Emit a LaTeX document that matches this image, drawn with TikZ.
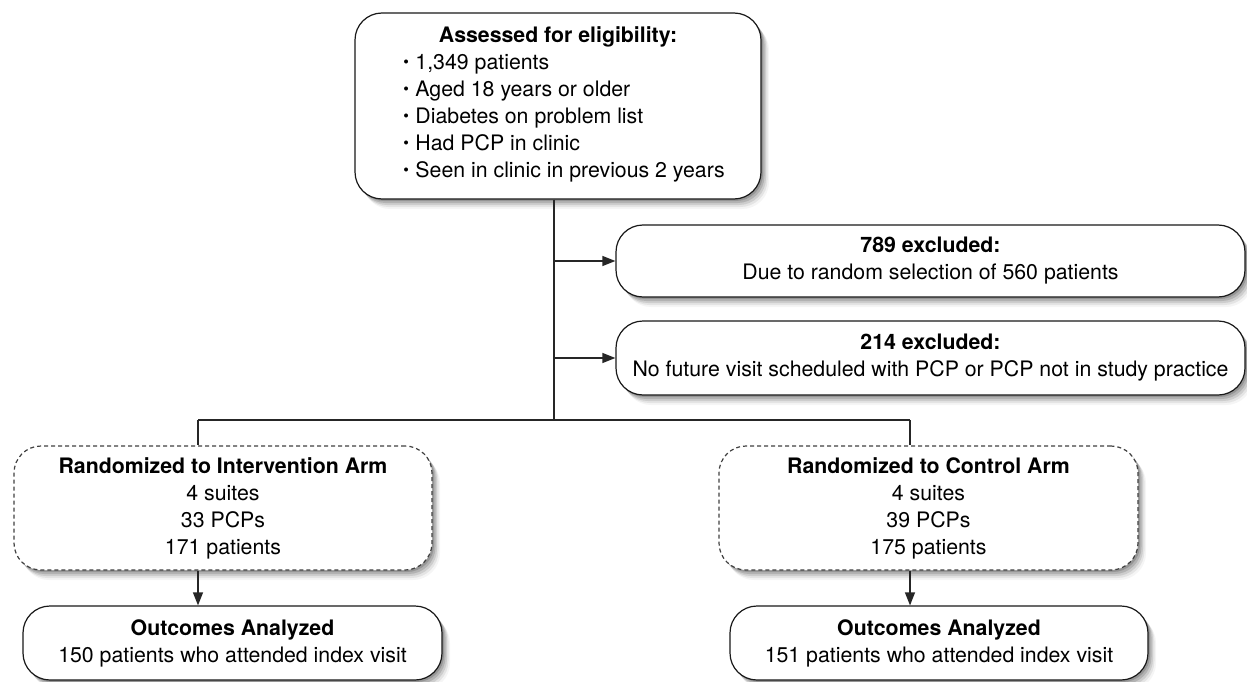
\documentclass[tikz,border=0pt]{standalone}
\usepackage{fontspec}
\setmainfont{TeX Gyre Heros}
\usetikzlibrary{arrows.meta,shadows}
\newcommand{\bul}{{\fontsize{16}{16}\selectfont\raisebox{1.4pt}{•}}\hspace{6.5pt}}
\begin{document}
\begin{tikzpicture}[x=1pt,y=-1pt,
  myshadow/.style={
    general shadow={fill=black, opacity=0.16, shadow xshift=2pt, shadow yshift=-2pt},
    general shadow={fill=black, opacity=0.13, shadow xshift=3.5pt, shadow yshift=-4pt},
    general shadow={fill=black, opacity=0.10, shadow xshift=5pt, shadow yshift=-6pt},
    general shadow={fill=black, opacity=0.07, shadow xshift=6.5pt, shadow yshift=-8pt},
    general shadow={fill=black, opacity=0.04, shadow xshift=8pt, shadow yshift=-10pt}},
  txt/.style={font=\fontsize{21.3}{27}\selectfont, align=center},
  box/.style={draw=black!90, line width=1.2pt, fill=white, rounded corners=27pt, txt, myshadow, inner sep=0pt},
  dbox/.style={box, draw=black!75, dash pattern=on 4pt off 3pt},
  conn/.style={draw=black!85, line width=1.2pt},
  arr/.style={conn, -{Triangle[length=13pt,width=10pt]}},
]
\useasboundingbox (0,0) rectangle (1247,682);

\node[box, minimum width=406pt, minimum height=186pt] (top) at (558,106)
  {\textbf{Assessed for eligibility:}\\
   \hspace*{12pt}\begin{tabular}[t]{@{}l@{}}
   \bul 1,349 patients\\
   \bul Aged 18 years or older\\
   \bul Diabetes on problem list\\
   \bul Had PCP in clinic\\
   \bul Seen in clinic in previous 2 years
   \end{tabular}};

\node[box, minimum width=629pt, minimum height=72pt] (ex1) at (930.5,261)
  {\textbf{789 excluded:}\\Due to random selection of 560 patients};
\node[box, minimum width=629pt, minimum height=74pt] (ex2) at (930.5,358)
  {\textbf{214 excluded:}\\No future visit scheduled with PCP or PCP not in study practice};

\node[dbox, minimum width=418pt, minimum height=124pt] (intv) at (223,508)
  {\textbf{Randomized to Intervention Arm}\\4 suites\\33 PCPs\\171 patients};
\node[dbox, minimum width=419pt, minimum height=124pt] (ctrl) at (928.5,508)
  {\textbf{Randomized to Control Arm}\\4 suites\\39 PCPs\\175 patients};

\node[box, minimum width=419pt, minimum height=74pt] (outL) at (232.5,643)
  {\textbf{Outcomes Analyzed}\\150 patients who attended index visit};
\node[box, minimum width=418pt, minimum height=74pt] (outR) at (939,643)
  {\textbf{Outcomes Analyzed}\\151 patients who attended index visit};

\coordinate (t) at (554,420);
\coordinate (bl) at (198,420);
\coordinate (br) at (910,420);

\draw[conn] (top.south -| t) -- (t);
\draw[arr] (t |- ex1.west) -- (ex1.west);
\draw[arr] (t |- ex2.west) -- (ex2.west);
\draw[conn] (bl) -- (br);
\draw[conn] (bl) -- (intv.north -| bl);
\draw[conn] (br) -- (ctrl.north -| br);
\draw[arr] (intv.south -| bl) -- (outL.north -| bl);
\draw[arr] (ctrl.south -| br) -- (outR.north -| br);
\end{tikzpicture}
\end{document}
